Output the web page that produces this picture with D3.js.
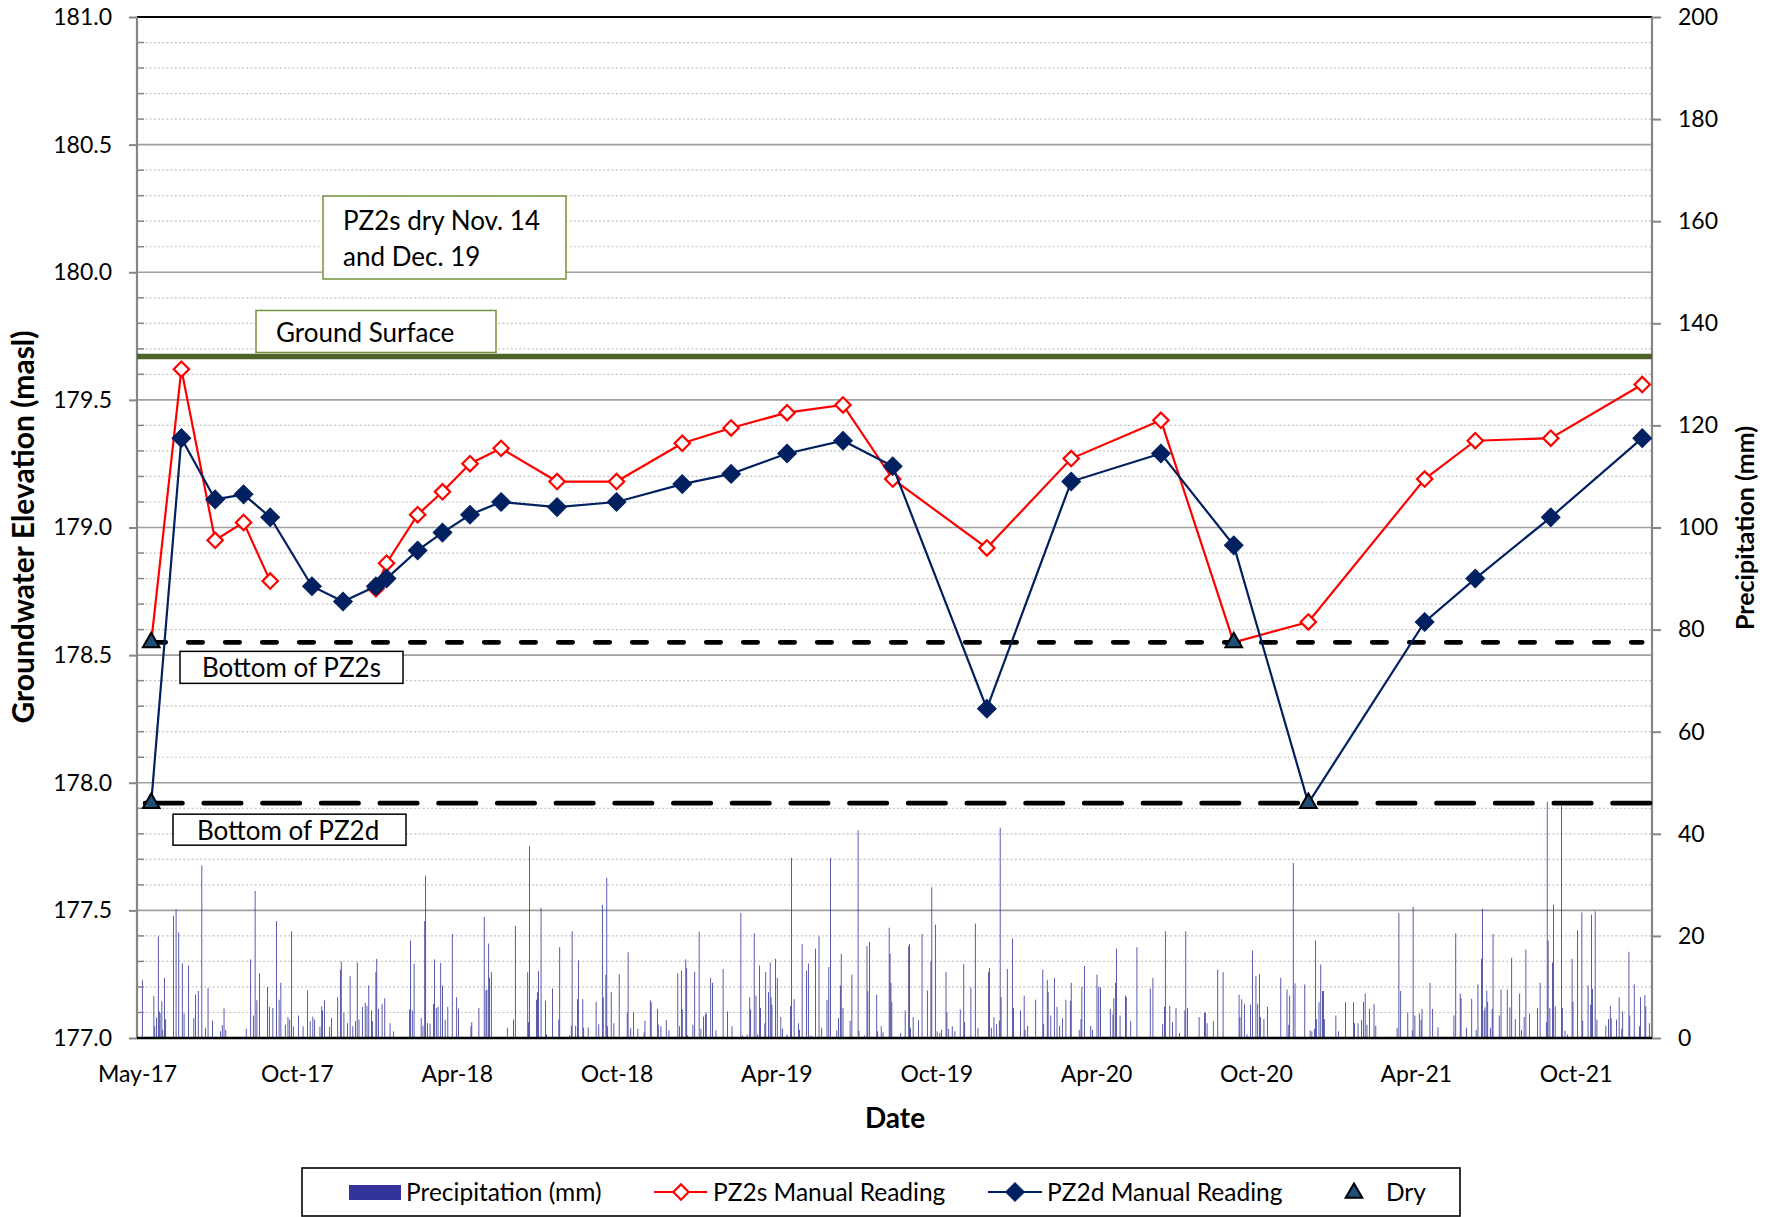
<!DOCTYPE html>
<html lang="en">
<head>
<meta charset="UTF-8" />
<title>PZ2 Groundwater Elevation and Precipitation</title>
<script src="https://d3js.org/d3.v7.min.js"></script>
<style>
    body {
        margin: 0;
        background: #fff;
    }

    svg {
        display: block;
        font-family: Lato, "Open Sans", sans-serif;
    }
</style>
</head>
<body>
<svg id="chart" width="1774" height="1217"></svg>

<script>
    // manual readings (same dates for both piezometers)
    const readingDates = [
        "2017-05-17", "2017-06-20", "2017-07-28", "2017-08-29", "2017-09-28", "2017-11-14",
        "2017-12-19", "2018-01-25", "2018-02-06", "2018-03-13", "2018-04-10", "2018-05-11",
        "2018-06-15", "2018-08-17", "2018-10-23", "2019-01-05", "2019-03-01", "2019-05-03",
        "2019-07-05", "2019-08-30", "2019-12-14", "2020-03-18", "2020-06-27", "2020-09-17",
        "2020-12-10", "2021-04-20", "2021-06-16", "2021-09-09", "2021-12-21"
    ];
    // null = dry, not plotted (Nov. 14 and Dec. 19 2017)
    const pz2sLevels = [
        178.55, 179.62, 178.95, 179.02, 178.79, null,
        null, 178.76, 178.86, 179.05, 179.14, 179.25,
        179.31, 179.18, 179.18, 179.33, 179.39, 179.45,
        179.48, 179.19, 178.92, 179.27, 179.42, 178.55,
        178.63, 179.19, 179.34, 179.35, 179.56
    ];
    const pz2dLevels = [
        177.92, 179.35, 179.11, 179.13, 179.04, 178.77,
        178.71, 178.77, 178.80, 178.91, 178.98, 179.05,
        179.10, 179.08, 179.10, 179.17, 179.21, 179.29,
        179.34, 179.24, 178.29, 179.18, 179.29, 178.93,
        177.92, 178.63, 178.80, 179.04, 179.35
    ];
    const pz2sDryDates = ["2017-05-17", "2020-09-17"];
    const pz2dDryDates = ["2017-05-17", "2020-12-10"];

    const groundSurface = 179.67;
    const bottomPZ2s = 178.55;
    const bottomPZ2d = 177.92;

    const elevTicks = [177.0, 177.5, 178.0, 178.5, 179.0, 179.5, 180.0, 180.5, 181.0];
    const precipTicks = [0, 20, 40, 60, 80, 100, 120, 140, 160, 180, 200];
    const dateTickStep = 180; // days between date labels

    // daily precipitation: [days after 1 May 2017, mm]
    const precipRecords = [
        [6, 11.4], [19, 8.2], [20, 2.3], [22, 4.0], [24, 19.9], [25, 5.2], [26, 4.9], [28, 7.2], [29, 1.6], [31, 11.8],
        [32, 3.7], [41, 23.9], [44, 25.2], [47, 20.7], [51, 14.6], [53, 4.8], [58, 14.2], [64, 3.9], [66, 8.5], [69, 9.2],
        [73, 33.8], [77, 2.0], [80, 9.8], [85, 3.4], [94, 1.3], [96, 2.5], [98, 5.8], [100, 1.6], [123, 1.8], [128, 15.4],
        [131, 4.4], [133, 28.8], [135, 7.4], [138, 12.7], [147, 10.0], [149, 6.1], [153, 5.9], [157, 22.9], [160, 7.5], [162, 10.8],
        [167, 2.6], [170, 4.1], [172, 3.6], [174, 20.9], [176, 2.3], [182, 4.4], [187, 2.3], [192, 9.3], [195, 3.3], [198, 4.2],
        [200, 3.6], [206, 2.2], [208, 6.2], [209, 5.4], [211, 7.4], [217, 2.2], [219, 3.9], [226, 8.0], [229, 13.4], [230, 15.0],
        [233, 5.0], [237, 2.9], [240, 12.1], [243, 2.3], [246, 3.3], [248, 14.8], [250, 3.6], [254, 6.1], [257, 6.9], [259, 6.3],
        [261, 10.3], [264, 5.4], [265, 3.3], [269, 12.9], [270, 15.5], [272, 5.7], [276, 6.7], [279, 7.8], [285, 2.9], [289, 1.3],
        [307, 5.6], [308, 19.1], [310, 5.4], [312, 14.5], [320, 3.9], [322, 2.4], [324, 22.9], [325, 31.8], [327, 2.9], [330, 2.8],
        [334, 6.7], [335, 15.4], [337, 5.9], [339, 6.1], [342, 14.7], [344, 10.3], [347, 3.6], [350, 6.1], [355, 20.4], [360, 8.0],
        [362, 5.8], [376, 2.3], [377, 3.1], [385, 5.9], [391, 23.7], [393, 9.3], [394, 9.5], [396, 18.5], [397, 11.8], [399, 12.9],
        [417, 2.0], [424, 3.6], [426, 22.0],
        [440, 12.9], [441, 3.1], [442, 37.6], [450, 7.5], [451, 9.0], [452, 13.1], [455, 25.5], [460, 7.3], [461, 0.7], [468, 9.7],
        [475, 3.6], [476, 17.8], [487, 0.5], [489, 2.4], [490, 20.9], [494, 2.4], [496, 7.6], [497, 15.2], [502, 7.6], [503, 2.0],
        [508, 2.1], [517, 7.1], [520, 2.7], [524, 26.1], [525, 8.0], [528, 12.4], [529, 31.4], [530, 2.3], [534, 9.0], [537, 2.9],
        [543, 12.5], [552, 5.0], [553, 16.8], [556, 2.0], [559, 5.0], [564, 1.8], [571, 1.1], [572, 3.4], [578, 7.4], [579, 7.0],
        [586, 5.7], [587, 2.6], [590, 2.3], [596, 3.5], [599, 1.5], [606, 0.3], [609, 12.7], [611, 2.3], [613, 13.2], [614, 5.6],
        [618, 15.4], [619, 13.7], [620, 0.5], [626, 2.6], [628, 12.9], [633, 20.8], [635, 1.8], [638, 4.2], [640, 4.6], [641, 5.0],
        [646, 11.8], [648, 10.8], [652, 1.5], [660, 13.5], [665, 5.2], [670, 2.3], [680, 24.5], [682, 0.5], [687, 0.7], [690, 8.0],
        [691, 5.6], [695, 20.5], [697, 8.3], [699, 0.7], [701, 14.2], [702, 5.9], [707, 2.9], [708, 12.9], [711, 9.0], [713, 14.8],
        [714, 8.0], [715, 6.5], [719, 15.5], [721, 11.8], [725, 4.1], [727, 1.8], [732, 0.7], [736, 6.3], [737, 35.3], [740, 7.6],
        [745, 2.9], [746, 1.6], [749, 18.4], [754, 13.2], [756, 14.6], [759, 0.5], [764, 17.5], [768, 19.9], [771, 2.0], [777, 7.5],
        [779, 13.9], [781, 35.3], [788, 1.5], [790, 3.9], [792, 10.3], [793, 16.5], [795, 5.9], [803, 3.4], [805, 12.4], [812, 40.7],
        [813, 1.4], [819, 0.5], [822, 18.0], [823, 9.2], [825, 18.8], [833, 8.5], [834, 1.3], [838, 2.3], [840, 1.1], [847, 21.6],
        [848, 16.5], [849, 10.8], [850, 7.0],
        [860, 1.0], [865, 5.4], [869, 18.0], [870, 18.4], [871, 2.0], [874, 4.1], [880, 3.5], [884, 20.4], [890, 9.3], [894, 15.0],
        [895, 29.5], [899, 22.2], [901, 1.3], [904, 1.0], [906, 1.6], [911, 12.9], [912, 5.0], [914, 1.8], [918, 2.3], [921, 1.3],
        [927, 5.6], [931, 14.5], [932, 3.1], [939, 9.9], [944, 22.4], [947, 2.0], [959, 12.9], [960, 13.7], [962, 2.0], [965, 4.1],
        [968, 2.7], [971, 3.4], [972, 41.2], [973, 8.0], [980, 13.5], [986, 19.5], [987, 5.9], [995, 5.4], [999, 8.3], [1000, 1.6],
        [1003, 2.4], [1012, 7.5], [1020, 13.4], [1021, 2.7], [1025, 11.4], [1026, 9.0], [1029, 4.4], [1033, 11.8], [1036, 6.1], [1039, 2.4],
        [1042, 3.9], [1046, 7.5], [1051, 7.3], [1052, 10.8], [1061, 1.6], [1063, 3.7], [1064, 10.0], [1067, 14.1], [1074, 2.4], [1076, 1.6],
        [1081, 12.4], [1083, 10.0], [1085, 9.9], [1096, 5.7], [1099, 4.6], [1100, 7.8], [1102, 10.8], [1103, 17.5], [1107, 4.4], [1113, 8.3],
        [1114, 8.0], [1119, 3.3], [1126, 17.8], [1141, 9.7], [1144, 11.8], [1155, 2.7], [1157, 6.1], [1158, 20.9], [1163, 6.3], [1166, 3.1],
        [1170, 5.9], [1174, 1.0], [1180, 5.4], [1181, 20.9], [1183, 5.9], [1196, 4.1], [1202, 5.0], [1203, 5.0], [1205, 2.9], [1212, 3.3],
        [1217, 13.4], [1223, 12.9], [1241, 8.5], [1242, 4.1], [1244, 7.6], [1247, 6.7], [1250, 0.7], [1254, 6.5], [1256, 17.1], [1260, 12.1],
        [1262, 6.7], [1264, 12.5], [1265, 4.1], [1269, 3.7], [1273, 6.1],
        [1288, 11.8], [1295, 9.5], [1297, 2.6], [1298, 8.3], [1302, 34.3], [1304, 10.7], [1315, 10.5], [1321, 1.5], [1323, 1.3], [1326, 1.8],
        [1327, 19.1], [1328, 3.7], [1331, 7.0], [1333, 14.4], [1335, 9.2], [1336, 9.2], [1337, 3.7], [1350, 4.4], [1353, 1.3], [1361, 7.0],
        [1370, 7.0], [1371, 2.9], [1375, 2.9], [1379, 3.5], [1381, 7.1], [1383, 8.7], [1385, 2.6], [1388, 5.7], [1393, 6.7], [1395, 2.4],
        [1419, 2.0], [1421, 24.5], [1423, 9.2], [1431, 5.0], [1436, 1.5], [1437, 25.7], [1439, 4.4], [1444, 4.8], [1446, 3.6], [1447, 5.7],
        [1456, 10.8], [1459, 5.7], [1465, 2.1], [1483, 4.4], [1485, 20.5], [1490, 8.7], [1491, 7.8], [1497, 2.0], [1503, 7.7], [1508, 1.6],
        [1510, 10.5], [1514, 15.5], [1515, 25.3], [1517, 5.4], [1518, 6.0], [1520, 9.3], [1521, 7.1], [1524, 2.0], [1526, 5.7], [1527, 20.4],
        [1534, 4.4], [1536, 9.5], [1543, 9.5], [1546, 6.0], [1548, 15.7], [1552, 3.7], [1557, 8.7], [1559, 1.6], [1562, 4.1], [1564, 17.3],
        [1568, 4.8], [1577, 5.9], [1580, 10.8], [1587, 3.1], [1588, 46.3], [1589, 19.1], [1591, 5.9], [1594, 14.8], [1595, 26.1], [1597, 6.2],
        [1604, 45.4], [1605, 5.9], [1608, 1.4], [1611, 0.7], [1616, 15.5], [1617, 7.1], [1622, 21.1], [1627, 24.6], [1628, 3.4], [1634, 10.3],
        [1637, 6.5], [1638, 24.2], [1639, 9.6], [1642, 24.8], [1644, 3.6], [1654, 2.4], [1657, 3.7], [1659, 6.3], [1660, 3.9], [1666, 3.6],
        [1669, 8.0], [1672, 1.8], [1673, 5.2], [1680, 16.9], [1681, 4.4], [1686, 10.5], [1692, 2.3], [1693, 8.0], [1698, 8.4], [1699, 6.2],
        [1703, 2.9]
    ];

    const parseDate = d3.timeParse("%Y-%m-%d");
    const axisStart = parseDate("2017-05-01");
    const axisEnd = parseDate("2022-01-01");

    const plot = { left: 137, right: 1652, top: 17, bottom: 1038 };
    const svg = d3.select("#chart");

    const x = d3.scaleTime().domain([axisStart, axisEnd]).range([plot.left, plot.right]);
    const yElev = d3.scaleLinear().domain([177, 181]).range([plot.bottom, plot.top]);
    const yPrecip = d3.scaleLinear().domain([0, 200]).range([plot.bottom, plot.top]);

    const navy = "#002060";
    const red = "#ff0000";
    const dryFill = "#1f4e79";
    const olive = "#4f6228";

    // gridlines, every 0.1 m, solid at the labelled 0.5 m steps
    const gridVals = d3.range(1, 40).map(i => ({ v: 177 + i / 10, major: i % 5 === 0 }));
    svg.append("g").selectAll("line")
        .data(gridVals)
        .join("line")
        .attr("x1", plot.left).attr("x2", plot.right)
        .attr("y1", d => yElev(d.v)).attr("y2", d => yElev(d.v))
        .attr("stroke", d => d.major ? "#a0a0a0" : "#c4c4c4")
        .attr("stroke-width", d => d.major ? 1.6 : 1.2)
        .attr("stroke-dasharray", d => d.major ? null : "2,2.2");

    // precipitation bars
    svg.append("g").selectAll("rect")
        .data(precipRecords)
        .join("rect")
        .attr("x", d => x(d3.timeDay.offset(axisStart, d[0])) - 0.4)
        .attr("width", 0.8)
        .attr("y", d => yPrecip(d[1]))
        .attr("height", d => yPrecip(0) - yPrecip(d[1]))
        .attr("fill", "#333399");

    // plot frame
    svg.append("line")
        .attr("x1", plot.left).attr("x2", plot.right)
        .attr("y1", plot.top).attr("y2", plot.top)
        .attr("stroke", "#000").attr("stroke-width", 2);

    // left axis
    const leftAxis = svg.append("g")
        .attr("transform", `translate(${plot.left},0)`)
        .call(d3.axisLeft(yElev).tickValues(elevTicks).tickFormat(d3.format(".1f")).tickSize(8).tickPadding(17));
    leftAxis.selectAll(".tick line").attr("stroke", "#868686").attr("stroke-width", 2);
    leftAxis.select(".domain").remove();
    svg.append("g").selectAll("line")
        .data(gridVals.filter(d => !d.major))
        .join("line")
        .attr("x1", plot.left).attr("x2", plot.left + 7)
        .attr("y1", d => yElev(d.v)).attr("y2", d => yElev(d.v))
        .attr("stroke", "#868686").attr("stroke-width", 1.5);
    svg.append("line")
        .attr("x1", plot.left).attr("x2", plot.left)
        .attr("y1", plot.top).attr("y2", plot.bottom)
        .attr("stroke", "#868686").attr("stroke-width", 2.2);

    // right axis
    const rightAxis = svg.append("g")
        .attr("transform", `translate(${plot.right},0)`)
        .call(d3.axisRight(yPrecip).tickValues(precipTicks).tickSize(9).tickPadding(17));
    rightAxis.selectAll(".tick line").attr("stroke", "#868686").attr("stroke-width", 2);
    rightAxis.select(".domain").remove();
    svg.append("line")
        .attr("x1", plot.right).attr("x2", plot.right)
        .attr("y1", plot.top).attr("y2", plot.bottom)
        .attr("stroke", "#868686").attr("stroke-width", 2.2);

    // bottom date axis
    const dateTicks = d3.range(0, d3.timeDay.count(axisStart, axisEnd), dateTickStep)
        .map(d => d3.timeDay.offset(axisStart, d));
    const bottomAxis = svg.append("g")
        .attr("transform", `translate(0,${plot.bottom})`)
        .call(d3.axisBottom(x).tickValues(dateTicks).tickFormat(d3.timeFormat("%b-%y")).tickSize(0).tickPadding(28));
    bottomAxis.select(".domain").remove();
    svg.append("line")
        .attr("x1", plot.left).attr("x2", plot.right)
        .attr("y1", plot.bottom).attr("y2", plot.bottom)
        .attr("stroke", "#000").attr("stroke-width", 2.4);

    [leftAxis, rightAxis, bottomAxis].forEach(g => {
        g.attr("font-family", null).attr("font-size", null);
        g.selectAll("text").attr("font-size", 23).attr("fill", "#000");
    });

    // reference levels
    svg.append("line")
        .attr("x1", x(parseDate(readingDates[0]))).attr("x2", x(parseDate(readingDates[readingDates.length - 1])))
        .attr("y1", yElev(bottomPZ2s)).attr("y2", yElev(bottomPZ2s))
        .attr("stroke", "#000").attr("stroke-width", 4.6)
        .attr("stroke-dasharray", "14.5,22.5").attr("stroke-linecap", "round");
    svg.append("line")
        .attr("x1", plot.left + 8).attr("x2", plot.right)
        .attr("y1", yElev(bottomPZ2d)).attr("y2", yElev(bottomPZ2d))
        .attr("stroke", "#000").attr("stroke-width", 4.6)
        .attr("stroke-dasharray", "37.5,21.2").attr("stroke-linecap", "round");
    svg.append("line")
        .attr("x1", plot.left).attr("x2", plot.right)
        .attr("y1", yElev(groundSurface)).attr("y2", yElev(groundSurface))
        .attr("stroke", olive).attr("stroke-width", 5.4);

    // text boxes
    function noteBox(bx, by, w, h, border, lines, tx, firstBase, lineGap) {
        const g = svg.append("g");
        g.append("rect")
            .attr("x", bx).attr("y", by).attr("width", w).attr("height", h)
            .attr("fill", "#fff").attr("stroke", border).attr("stroke-width", 1.5);
        lines.forEach((t, i) => {
            g.append("text")
                .attr("x", tx).attr("y", firstBase + i * lineGap)
                .attr("font-size", 26).attr("fill", "#000")
                .text(t);
        });
    }
    noteBox(323, 196, 243, 83, "#76923c", ["PZ2s dry Nov. 14", "and Dec. 19"], 343, 230, 36);
    noteBox(256, yElev(groundSurface) - 46, 240, 42, "#76923c", ["Ground Surface"], 276, yElev(groundSurface) - 14, 0);
    noteBox(180, yElev(bottomPZ2s) + 9, 223, 32, "#000", ["Bottom of PZ2s"], 202, yElev(bottomPZ2s) + 35, 0);
    noteBox(173, yElev(bottomPZ2d) + 11, 233, 31, "#000", ["Bottom of PZ2d"], 197, yElev(bottomPZ2d) + 37, 0);

    // series
    function seriesData(levels, dryDates) {
        return readingDates.map((d, i) => ({
            date: parseDate(d),
            v: levels[i],
            dry: dryDates.includes(d)
        }));
    }
    const pz2s = seriesData(pz2sLevels, pz2sDryDates);
    const pz2d = seriesData(pz2dLevels, pz2dDryDates);

    const line = d3.line()
        .defined(d => d.v != null)
        .x(d => x(d.date))
        .y(d => yElev(d.v));

    const diamond = (size) => d3.symbol().type(d3.symbolSquare).size(size)();

    // PZ2s (red, open diamonds)
    svg.append("path").datum(pz2s)
        .attr("d", line).attr("fill", "none")
        .attr("stroke", red).attr("stroke-width", 2.2);
    svg.append("g").selectAll("path")
        .data(pz2s.filter(d => d.v != null && !d.dry))
        .join("path")
        .attr("d", diamond(118))
        .attr("transform", d => `translate(${x(d.date)},${yElev(d.v)}) rotate(45)`)
        .attr("fill", "#fff").attr("stroke", red).attr("stroke-width", 2.2);

    // PZ2d (navy, filled diamonds)
    svg.append("path").datum(pz2d)
        .attr("d", line).attr("fill", "none")
        .attr("stroke", navy).attr("stroke-width", 2.2);
    svg.append("g").selectAll("path")
        .data(pz2d.filter(d => d.v != null && !d.dry))
        .join("path")
        .attr("d", diamond(175))
        .attr("transform", d => `translate(${x(d.date)},${yElev(d.v)}) rotate(45)`)
        .attr("fill", navy).attr("stroke", navy).attr("stroke-width", 1);

    // dry markers
    const dryPoints = pz2s.filter(d => d.dry).concat(pz2d.filter(d => d.dry));
    const triangle = d3.symbol().type(d3.symbolTriangle).size(120)();
    svg.append("g").selectAll("path")
        .data(dryPoints)
        .join("path")
        .attr("d", triangle)
        .attr("transform", d => `translate(${x(d.date)},${yElev(d.v)})`)
        .attr("fill", dryFill).attr("stroke", "#000").attr("stroke-width", 2);

    // axis titles
    svg.append("text")
        .attr("transform", "translate(34,527) rotate(-90)")
        .attr("text-anchor", "middle")
        .attr("font-size", 30).attr("font-weight", "bold")
        .text("Groundwater Elevation (masl)");
    svg.append("text")
        .attr("transform", "translate(1754,528) rotate(-90)")
        .attr("text-anchor", "middle")
        .attr("font-size", 25).attr("font-weight", "bold")
        .text("Precipitation (mm)");
    svg.append("text")
        .attr("x", 895).attr("y", 1128)
        .attr("text-anchor", "middle")
        .attr("font-size", 28).attr("font-weight", "bold")
        .text("Date");

    // legend
    const legend = svg.append("g");
    legend.append("rect")
        .attr("x", 302).attr("y", 1168).attr("width", 1158).attr("height", 48)
        .attr("fill", "#fff").attr("stroke", "#000").attr("stroke-width", 1.6);
    const legY = 1192;
    legend.append("rect")
        .attr("x", 349).attr("y", legY - 7).attr("width", 52).attr("height", 15)
        .attr("fill", "#333399");
    legend.append("line")
        .attr("x1", 654).attr("x2", 707).attr("y1", legY).attr("y2", legY)
        .attr("stroke", red).attr("stroke-width", 2.2);
    legend.append("path")
        .attr("d", diamond(118))
        .attr("transform", `translate(681,${legY}) rotate(45)`)
        .attr("fill", "#fff").attr("stroke", red).attr("stroke-width", 2.2);
    legend.append("line")
        .attr("x1", 988).attr("x2", 1042).attr("y1", legY).attr("y2", legY)
        .attr("stroke", navy).attr("stroke-width", 2.2);
    legend.append("path")
        .attr("d", diamond(175))
        .attr("transform", `translate(1015,${legY}) rotate(45)`)
        .attr("fill", navy).attr("stroke", navy).attr("stroke-width", 1);
    legend.append("path")
        .attr("d", triangle)
        .attr("transform", `translate(1354,${legY + 1})`)
        .attr("fill", dryFill).attr("stroke", "#000").attr("stroke-width", 2);
    const legendLabels = [
        { x: 406, t: "Precipitation (mm)" },
        { x: 713, t: "PZ2s Manual Reading" },
        { x: 1047, t: "PZ2d Manual Reading" },
        { x: 1386, t: "Dry" }
    ];
    legend.selectAll("text.lbl")
        .data(legendLabels)
        .join("text")
        .attr("class", "lbl")
        .attr("x", d => d.x).attr("y", 1201)
        .attr("font-size", 24.5).attr("fill", "#000")
        .text(d => d.t);
</script>
</body>
</html>
